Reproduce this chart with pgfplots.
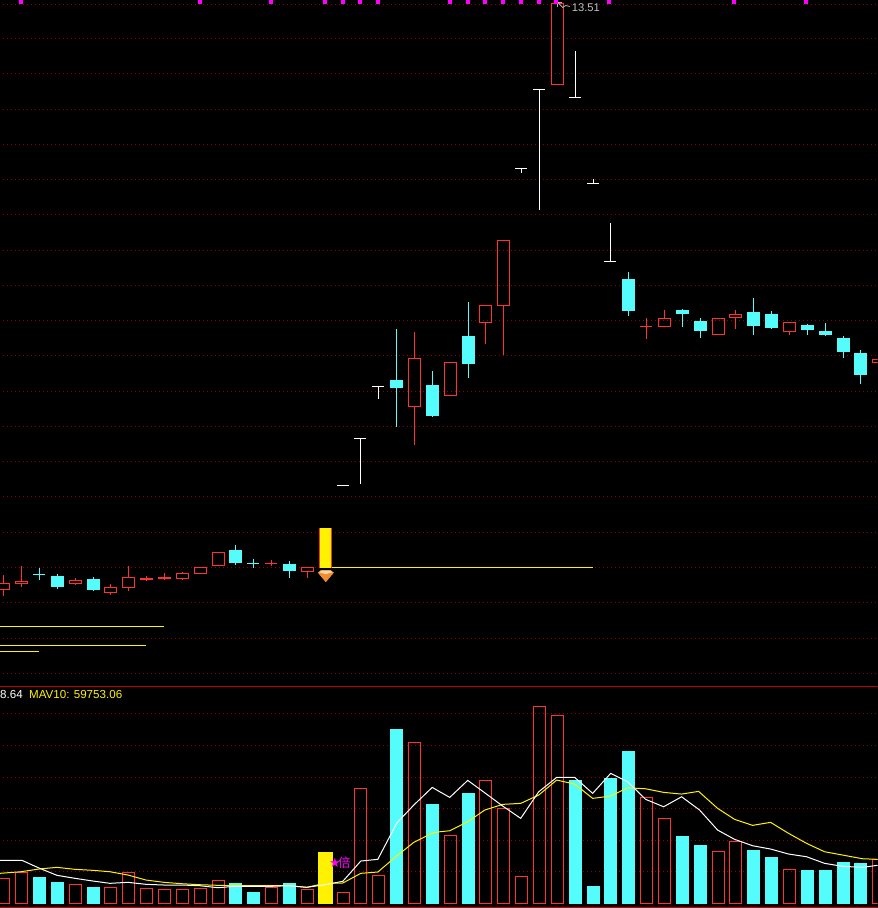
\documentclass[border=0pt]{standalone}
\usepackage{pgfplots}
\pgfplotsset{compat=1.18}
\usepackage{fontspec}
\setmainfont{Liberation Sans}
\newfontfamily\cjk{Noto Sans CJK SC}
\newfontfamily\djv{DejaVu Sans}
\definecolor{cy}{HTML}{54FCFC}
\definecolor{rd}{HTML}{FF3232}
\definecolor{grd}{HTML}{8C0000}
\definecolor{frame}{HTML}{C00000}
\definecolor{mag}{HTML}{FF00FF}
\newcommand\hollow[5]{%
 \pgfmathsetmacro\xa{#1-6}\pgfmathsetmacro\xb{#1+6}%
 \addplot[rd,line width=1pt,forget plot] coordinates {(#1,#4)(#1,#2)};
 \addplot[rd,line width=1pt,forget plot] coordinates {(#1,#3)(#1,#5)};
 \addplot[rd,line width=1pt,forget plot] coordinates {(\xa,#2)(\xb,#2)(\xb,#3)(\xa,#3)(\xa,#2)};
}
\newcommand\solid[5]{%
 \pgfmathsetmacro\xa{#1-6.5}\pgfmathsetmacro\xb{#1+6.5}%
 \addplot[cy,line width=1pt,forget plot] coordinates {(#1,#4)(#1,#5)};
 \addplot[fill=cy,draw=none,forget plot] coordinates {(\xa,#2)(\xb,#2)(\xb,#3)(\xa,#3)} -- cycle;
}
\newcommand\doji[5]{%
 \pgfmathsetmacro\xa{#1-6}\pgfmathsetmacro\xb{#1+6}%
 \addplot[#5,line width=1pt,forget plot] coordinates {(#1,#3)(#1,#4)};
 \addplot[#5,line width=1pt,forget plot] coordinates {(\xa,#2)(\xb,#2)};
}
\newcommand\gridy[1]{\addplot[grd,line width=1pt,dash pattern=on 1pt off 3pt,forget plot] coordinates {(3,#1)(878,#1)};}
\begin{document}
\begin{tikzpicture}
\fill[black,overlay] (-5pt,-5pt) rectangle (883pt,913pt);
\begin{axis}[
 at={(0pt,0pt)},anchor=south west,
 scale only axis,width=878pt,height=908pt,
 xmin=0,xmax=878,ymin=0,ymax=908,y dir=reverse,
 ticks=none,axis line style={draw=none},
 axis background/.style={fill=black},
 clip=true]
% grid
\gridy{3.5}\gridy{38.5}\gridy{73.5}\gridy{109.5}\gridy{144.5}\gridy{179.5}\gridy{214.5}
\gridy{250.5}\gridy{285.5}\gridy{320.5}\gridy{355.5}\gridy{391.5}\gridy{426.5}\gridy{461.5}\gridy{496.5}
\gridy{532.5}\gridy{567.5}\gridy{602.5}\gridy{638.5}\gridy{673.5}
\gridy{713.5}\gridy{745.5}\gridy{777.5}\gridy{808.5}\gridy{840.5}\gridy{871.5}
\addplot[frame,line width=1pt,forget plot] coordinates {(0,686.5)(878,686.5)};
\addplot[frame,line width=1pt,forget plot] coordinates {(0,907.5)(878,907.5)};
% magenta markers
\addplot[only marks,mark=square*,mark size=1.5pt,mag,forget plot] coordinates {(20.5,1)(199.5,1)(270.5,1)(324.5,1)(342.5,1)(359.5,1)(377.5,1)(449.5,1)(467.5,1)(484.5,1)(502.5,1)(520.5,1)(538.5,1)(556.5,1)(609.5,1)(734.5,1)(806.5,1)};
% horizontal yellow levels
\addplot[yellow,line width=1pt,forget plot] coordinates {(0,626.5)(164,626.5)};
\addplot[yellow,line width=1pt,forget plot] coordinates {(0,645.5)(146,645.5)};
\addplot[yellow,line width=1pt,forget plot] coordinates {(0,651.5)(39,651.5)};
\addplot[yellow,line width=1pt,forget plot] coordinates {(332,567.5)(593,567.5)};
% candles
\hollow{3.5}{583.5}{589.5}{575}{596}
\hollow{21.5}{581.5}{583.5}{566}{587}
\doji{39.5}{574.5}{568}{580}{cy}
\solid{57.5}{576}{587}{574}{589}
\hollow{75.5}{580.5}{583.5}{578}{585}
\solid{93.5}{579}{590}{577}{591}
\hollow{110.5}{587.5}{592.5}{584}{595}
\hollow{128.5}{577.5}{587.5}{566}{591}
\hollow{146.5}{578.5}{579.5}{576}{581}
\hollow{164.5}{577.5}{578.5}{573}{579}
\hollow{182.5}{573.5}{578.5}{572}{580}
\hollow{200.5}{567.5}{573.5}{567.5}{573.5}
\hollow{218.5}{552.5}{565.5}{552.5}{565.5}
\solid{235.5}{550}{563}{545}{565}
\doji{253.5}{563.5}{559}{568}{cy}
\doji{271.5}{563.5}{560}{566}{rd}
\solid{289.5}{564}{571}{561}{578}
\hollow{307.5}{567.5}{571.5}{567.5}{578}
% limit-up candle
\addplot[fill=yellow,draw=none,forget plot] coordinates {(319,528)(332,528)(332,568)(319,568)} -- cycle;
\addplot[rd,line width=1pt,forget plot] coordinates {(319.5,528)(319.5,568)};
\addplot[rd,line width=1pt,forget plot] coordinates {(331.5,528)(331.5,568)};
% diamond
\addplot[fill={rgb,255:red,240;green,140;blue,50},draw=none,forget plot] coordinates {(318,572.5)(321,570)(331,570)(334,572.5)(326,582)} -- cycle;
\addplot[fill={rgb,255:red,255;green,215;blue,160},draw=none,forget plot] coordinates {(319,572)(322,570.5)(330,570.5)(333,572)(326,574)} -- cycle;
\doji{343.5}{485.5}{485.5}{485.5}{white}
\doji{360.5}{438.5}{438.5}{484}{white}
\doji{378.5}{386.5}{386.5}{399}{white}
\solid{396.5}{380}{388}{329}{427}
\hollow{414.5}{358.5}{406.5}{332}{445}
\solid{432.5}{385}{416}{371}{417}
\hollow{450.5}{362.5}{395.5}{362.5}{395.5}
\solid{468.5}{336}{364}{302}{378}
\hollow{485.5}{305.5}{322.5}{305.5}{344}
\hollow{503.5}{240.5}{305.5}{240.5}{355}
\doji{521.5}{168.5}{168.5}{173}{white}
\doji{539.5}{89.5}{89.5}{210}{white}
\hollow{557.5}{2.5}{84.5}{2.5}{84.5}
\doji{575.5}{97.5}{51}{97.5}{white}
\doji{593.5}{183.5}{179}{183.5}{white}
\doji{610.5}{261.5}{223}{261.5}{white}
\solid{628.5}{279}{311}{272}{316}
\doji{646.5}{326.5}{318}{339}{rd}
\hollow{664.5}{318.5}{326.5}{310}{326.5}
\solid{682.5}{310}{314}{309}{327}
\solid{700.5}{321}{331}{318}{338}
\hollow{718.5}{318.5}{334.5}{318.5}{334.5}
\hollow{735.5}{314.5}{317.5}{310}{329}
\solid{753.5}{312}{326}{298}{335}
\solid{771.5}{314}{328}{311}{329}
\hollow{789.5}{322.5}{331.5}{322.5}{335}
\solid{807.5}{325}{330}{324}{335}
\solid{825.5}{331}{335}{323}{336}
\solid{843.5}{338}{352}{336}{358}
\solid{860.5}{353}{375}{350}{384}
\hollow{878.5}{359.5}{362.5}{359.5}{362.5}
% high label pointer
\addplot[gray!60!white,line width=0.8pt,forget plot] coordinates {(558,2)(563,7)(566,5)(570,6)};
\addplot[gray!60!white,line width=0.8pt,forget plot] coordinates {(562,2)(558,2)(558,6)};
\node[anchor=base west,inner sep=0,text={rgb,255:red,192;green,192;blue,192},font=\fontsize{11.2}{12}\selectfont] at (axis cs:572,11) {13.51};
% volume
\hollow{3.5}{878.5}{903.5}{878.5}{903.5}
\hollow{21.5}{872.5}{903.5}{872.5}{903.5}
\solid{39.5}{877}{904}{877}{904}
\solid{57.5}{882}{904}{882}{904}
\hollow{75.5}{884.5}{903.5}{884.5}{903.5}
\solid{93.5}{887}{904}{887}{904}
\hollow{110.5}{887.5}{903.5}{887.5}{903.5}
\hollow{128.5}{872.5}{903.5}{872.5}{903.5}
\hollow{146.5}{888.5}{903.5}{888.5}{903.5}
\hollow{164.5}{889.5}{903.5}{889.5}{903.5}
\hollow{182.5}{889.5}{903.5}{889.5}{903.5}
\hollow{200.5}{888.5}{903.5}{888.5}{903.5}
\hollow{218.5}{880.5}{903.5}{880.5}{903.5}
\solid{235.5}{883}{904}{883}{904}
\solid{253.5}{892}{904}{892}{904}
\hollow{271.5}{887.5}{903.5}{887.5}{903.5}
\solid{289.5}{883}{904}{883}{904}
\hollow{307.5}{889.5}{903.5}{889.5}{903.5}
\addplot[fill=yellow,draw=none,forget plot] coordinates {(318,852)(333,852)(333,904)(318,904)} -- cycle;
\hollow{343.5}{892.5}{903.5}{892.5}{903.5}
\hollow{360.5}{788.5}{903.5}{788.5}{903.5}
\hollow{378.5}{875.5}{903.5}{875.5}{903.5}
\solid{396.5}{729}{904}{729}{904}
\hollow{414.5}{742.5}{903.5}{742.5}{903.5}
\solid{432.5}{804}{904}{804}{904}
\hollow{450.5}{835.5}{903.5}{835.5}{903.5}
\solid{468.5}{793}{904}{793}{904}
\hollow{485.5}{780.5}{903.5}{780.5}{903.5}
\hollow{503.5}{808.5}{903.5}{808.5}{903.5}
\hollow{521.5}{876.5}{903.5}{876.5}{903.5}
\hollow{539.5}{706.5}{903.5}{706.5}{903.5}
\hollow{557.5}{715.5}{903.5}{715.5}{903.5}
\solid{575.5}{780}{904}{780}{904}
\solid{593.5}{886}{904}{886}{904}
\solid{610.5}{778}{904}{778}{904}
\solid{628.5}{751}{904}{751}{904}
\hollow{646.5}{797.5}{903.5}{797.5}{903.5}
\hollow{664.5}{818.5}{903.5}{818.5}{903.5}
\solid{682.5}{836}{904}{836}{904}
\solid{700.5}{845}{904}{845}{904}
\hollow{718.5}{851.5}{903.5}{851.5}{903.5}
\hollow{735.5}{841.5}{903.5}{841.5}{903.5}
\solid{753.5}{850}{904}{850}{904}
\solid{771.5}{857}{904}{857}{904}
\hollow{789.5}{869.5}{903.5}{869.5}{903.5}
\solid{807.5}{870}{904}{870}{904}
\solid{825.5}{870}{904}{870}{904}
\solid{843.5}{862}{904}{862}{904}
\solid{860.5}{863}{904}{863}{904}
\hollow{878.5}{859.5}{903.5}{859.5}{903.5}
% moving averages
\addplot[yellow,line width=1pt,forget plot] coordinates {(0,873.3)(21,871.7)(39,869)(57,867.3)(75,869.3)(93,870.3)(110,871.7)(128,875)(146,880)(164,882.3)(182,883.7)(200,884.7)(218,885.3)(235,885.7)(253,885.7)(271,885.7)(289,885.7)(307,887.3)(325,883.3)(343,883)(361,873.3)(378,872)(396,856.7)(414,842.3)(432,833.3)(440,831.7)(450,830.7)(468,821.7)(485,810)(503,804.3)(521,803.3)(539,795)(557,780)(575,784)(593,798.3)(611,796)(628,787.7)(646,788.7)(664,792.3)(682,794)(699,791.3)(718,808.3)(735,819.3)(753,825.3)(771,822.3)(789,833.3)(807,843.3)(825,851.7)(843,855)(863,858.7)(878,859.3)};
\addplot[white,line width=1pt,forget plot] coordinates {(0,860.3)(22,860.3)(39,868)(57,875.3)(75,878.3)(93,881)(110,883.3)(128,882.3)(146,884.3)(164,885)(182,885)(200,885.7)(218,887.7)(235,886.3)(253,886.3)(271,886.3)(289,885.7)(307,887.3)(325,884.7)(343,881.3)(361,861)(378,859.3)(397,823)(414,805)(432.5,787.3)(440,791.7)(450,797.3)(468,780.3)(485,792.7)(503,806)(521,818.3)(539,791.7)(557,777.3)(575,777.3)(593,793.3)(611,773.3)(628,781.7)(646,799.3)(664,806.7)(682,796.7)(700,810)(718,830)(735,839.3)(753,845.7)(771,849)(789,854)(807,856.7)(825,863.3)(843,866.3)(863,867.3)(878,865.3)};
% texts
\node[anchor=base west,inner sep=0,text=white,font=\fontsize{11.6}{12}\selectfont] at (axis cs:0,698) {8.64};
\node[anchor=base west,inner sep=0,text=yellow,font=\fontsize{11.6}{12}\selectfont] at (axis cs:29,698) {MAV10: 59753.06};
\node[anchor=base west,inner sep=0,text=mag,font=\fontsize{13}{13}\selectfont] at (axis cs:329,867) {{\djv ★}};
\node[anchor=base west,inner sep=0,text=mag,font=\fontsize{12.5}{13}\selectfont] at (axis cs:338,867) {{\cjk 倍}};
\end{axis}
\end{tikzpicture}
\end{document}
